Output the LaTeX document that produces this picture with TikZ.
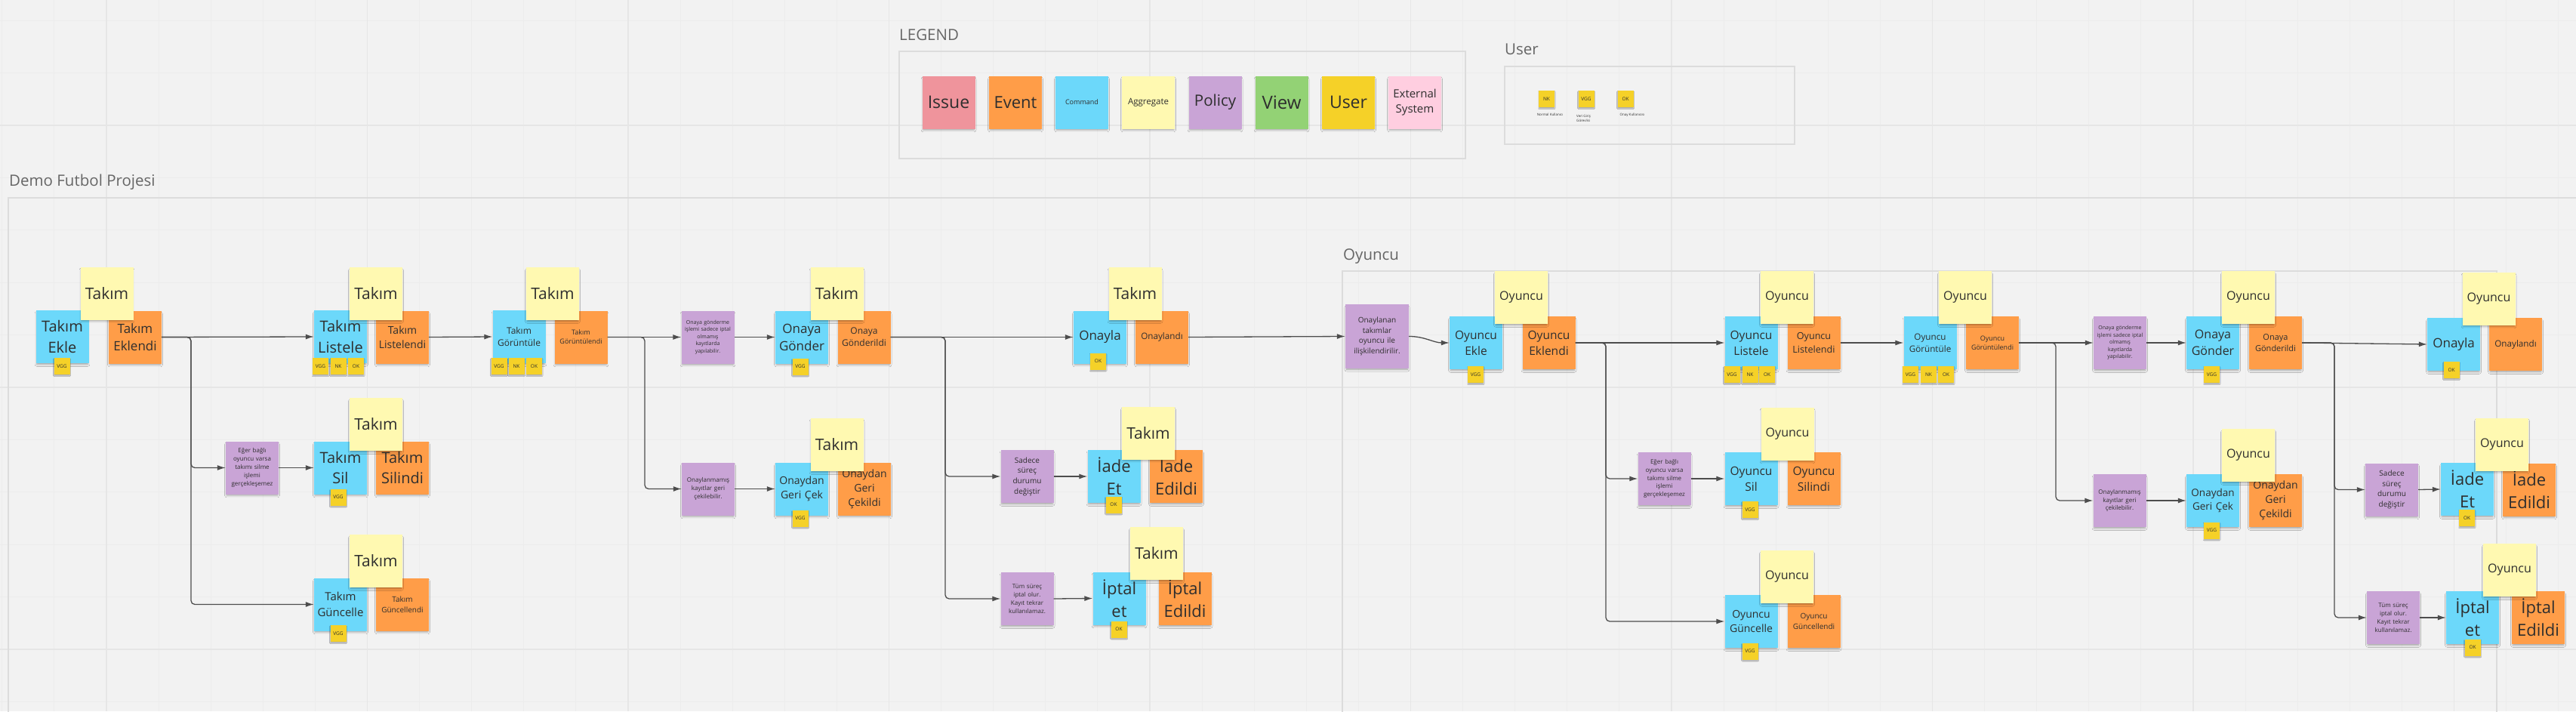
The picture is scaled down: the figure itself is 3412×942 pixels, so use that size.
\documentclass[tikz,border=0pt]{standalone}
\usepackage{fontspec}
\setmainfont{Open Sans}
\usetikzlibrary{arrows.meta,shadows.blur}
\definecolor{bg}{HTML}{F2F2F2}
\definecolor{gridminor}{HTML}{ECECEC}
\definecolor{gridmajor}{HTML}{E6E6E6}
\definecolor{issuec}{HTML}{EF949C}
\definecolor{eventc}{HTML}{FF9D48}
\definecolor{cmdc}{HTML}{6CD8FA}
\definecolor{aggc}{HTML}{FFF9B1}
\definecolor{polc}{HTML}{C9A4D6}
\definecolor{viewc}{HTML}{93D275}
\definecolor{userc}{HTML}{F5D128}
\definecolor{extc}{HTML}{FFCEE0}
\definecolor{txt}{HTML}{2E2E2E}
\definecolor{lbl}{HTML}{666666}
\definecolor{framec}{HTML}{DCDCDC}
\definecolor{linec}{HTML}{4D4D4D}
\newcommand\fz[1]{\fontsize{#1}{\fpeval{1.36*#1}}\selectfont}
\begin{document}
\begin{tikzpicture}[x=1pt,y=-1pt,
  sticky/.style={inner sep=0pt, minimum width=70pt, minimum height=70pt, text width=66pt, align=center, text=txt,
    blur shadow={shadow xshift=0pt, shadow yshift=-3pt, shadow blur radius=3pt, shadow opacity=35, shadow scale=0.96}},
  cmd/.style={sticky, fill=cmdc},
  evt/.style={sticky, fill=eventc},
  agg/.style={sticky, fill=aggc},
  pol/.style={sticky, fill=polc},
  usr/.style={inner sep=0pt, minimum width=21pt, minimum height=22pt, fill=userc, text=txt, font=\fz{6.5},
    blur shadow={shadow xshift=0pt, shadow yshift=-1.5pt, shadow blur radius=1pt, shadow opacity=30}},
  ulabel/.style={inner sep=0pt, text=txt, font=\fz{4.5}, align=left},
  conn/.style={draw=linec, line width=1.3pt, rounded corners=5pt, -{Latex[length=11pt,width=7pt]}},
  framebox/.style={draw=framec, line width=1.5pt},
  title/.style={text=lbl, anchor=base west, inner sep=0pt, font=\fz{20.5}},
]
\useasboundingbox (0,0) rectangle (3412,942);
\fill[bg] (0,0) rectangle (3412,942);
% grid
\foreach \k in {0,...,49} {\pgfmathsetmacro\gx{2.8+69.1*\k}\draw[gridminor, line width=1pt] (\gx,0) -- (\gx,942);}
\foreach \k in {0,...,13} {\pgfmathsetmacro\gy{27.2+69.4*\k}\draw[gridminor, line width=1pt] (0,\gy) -- (3412,\gy);}
\foreach \k in {2,7,...,47} {\pgfmathsetmacro\gx{2.8+69.1*\k}\draw[gridmajor, line width=1.2pt] (\gx,0) -- (\gx,942);}
\foreach \k in {2,7,12} {\pgfmathsetmacro\gy{27.2+69.4*\k}\draw[gridmajor, line width=1.2pt] (0,\gy) -- (3412,\gy);}

% frames and titles
\draw[framebox] (1191,68) rectangle (1941,210);
\node[title] (tlegend) at (1191,53) {LEGEND};
\draw[framebox] (1993,88) rectangle (2377,191);
\node[title] (tuser) at (1993,72) {User};
\draw[framebox] (3440,262) -- (11,262) -- (11,960);
\node[title] (tdemo) at (12,246) {Demo Futbol Projesi};
\draw[framebox] (1778,960) -- (1778,359) -- (3307,359) -- (3307,960);
\node[title] (toyuncu) at (1779,344) {Oyuncu};

% legend
\node[sticky, fill=issuec, font=\fz{23}] (lg1) at (1256.5,135.5) {Issue};
\node[sticky, fill=eventc, font=\fz{22}] (lg2) at (1345,135.5) {Event};
\node[sticky, fill=cmdc, font=\fz{9}] (lg3) at (1433,135.5) {Command};
\node[sticky, fill=aggc, font=\fz{11.5}] (lg4) at (1521,135.5) {Aggregate};
\node[sticky, fill=polc, font=\fz{20.5}] (lg5) at (1609.5,135.5) {Policy};
\node[sticky, fill=viewc, font=\fz{24}] (lg6) at (1697.5,135.5) {View};
\node[sticky, fill=userc, font=\fz{23}] (lg7) at (1786,135.5) {User};
\node[sticky, fill=extc, font=\fz{15}] (lg8) at (1874,135.5) {External\\System};

% user legend
\node[usr] (lnk) at (2048.5,131) {NK};
\node[usr] (lvgg) at (2101,131) {VGG};
\node[usr] (lok) at (2153,131) {OK};
\node[ulabel] (lnkt) at (2053,152) {Normal Kullanıcı};
\node[ulabel, anchor=north west] (lvggt) at (2088,152) {Veri Giriş\\Görevlisi};
\node[ulabel] (lokt) at (2162,152) {Onay Kullanıcısı};

% ===== Takım section =====
\node[cmd, font=\fz{20}] (tekle) at (82.5,446) {Takım\\Ekle};
\node[evt, font=\fz{17}] (teklendi) at (179,446.5) {Takım\\Eklendi};
\node[cmd, font=\fz{20}] (tlistele) at (451,446) {Takım\\Listele};
\node[evt, font=\fz{14}] (tlistelendi) at (533,446.5) {Takım\\Listelendi};
\node[cmd, font=\fz{12}] (tgor) at (687.5,446) {Takım\\Görüntüle};
\node[evt, font=\fz{9}] (tgorl) at (769.5,446.5) {Takım\\Görüntülendi};
\node[pol, font=\fz{8}] (psil) at (334,619.5) {Eğer bağlı\\oyuncu varsa\\takımı silme\\işlemi\\gerçekleşemez};
\node[cmd, font=\fz{20}] (tsil) at (451,619.5) {Takım\\Sil};
\node[evt, font=\fz{20}] (tsilindi) at (533,619.5) {Takım\\Silindi};
\node[cmd, font=\fz{15}] (tgunc) at (451,800.5) {Takım\\Güncelle};
\node[evt, font=\fz{10}] (tguncl) at (533,800.5) {Takım\\Güncellendi};
\node[pol, font=\fz{7}] (ponaya) at (937.5,446.5) {Onaya gönderme\\işlemi sadece iptal\\olmamış\\kayıtlarda\\yapılabilir.};
\node[cmd, font=\fz{17}] (tonayagonder) at (1062,446.5) {Onaya\\Gönder};
\node[evt, font=\fz{12}] (tgonderildi) at (1144.5,446.5) {Onaya\\Gönderildi};
\node[pol, font=\fz{8}] (ponaylanmamis) at (938,647.5) {Onaylanmamış\\kayıtlar geri\\çekilebilir.};
\node[cmd, font=\fz{14}] (tgericek) at (1062,647.5) {Onaydan\\Geri Çek};
\node[evt, font=\fz{14}] (tgericekildi) at (1145,647.5) {Onaydan\\Geri\\Çekildi};
\node[cmd, font=\fz{17}] (tonayla) at (1457,446.5) {Onayla};
\node[evt, font=\fz{11.7}] (tonaylandi) at (1539,446.5) {Onaylandı};
\node[pol, font=\fz{10}] (psadece) at (1360.5,631) {Sadece\\süreç\\durumu\\değiştir};
\node[cmd, font=\fz{22}] (tiade) at (1475.5,631) {İade\\Et};
\node[evt, font=\fz{22}] (tiadeedildi) at (1558,631) {İade\\Edildi};
\node[pol, font=\fz{8}] (ptum) at (1360.5,793) {Tüm süreç\\iptal olur.\\Kayıt tekrar\\kullanılamaz.};
\node[cmd, font=\fz{22}] (tiptal) at (1482.5,792.5) {İptal\\et};
\node[evt, font=\fz{22}] (tiptaledildi) at (1569.5,793) {İptal\\Edildi};

\node[agg, font=\fz{21}] (tagg1) at (141.5,388.5) {Takım};
\node[agg, font=\fz{21}] (tagg2) at (498,389) {Takım};
\node[agg, font=\fz{21}] (tagg3) at (732,389) {Takım};
\node[agg, font=\fz{21}] (tagg4) at (498,562) {Takım};
\node[agg, font=\fz{21}] (tagg5) at (498,743) {Takım};
\node[agg, font=\fz{21}] (tagg6) at (1108.5,389) {Takım};
\node[agg, font=\fz{21}] (tagg7) at (1108.5,589) {Takım};
\node[agg, font=\fz{21}] (tagg8) at (1503.5,389) {Takım};
\node[agg, font=\fz{21}] (tagg9) at (1521,573.5) {Takım};
\node[agg, font=\fz{21}] (tagg10) at (1532,733) {Takım};

\node[usr] (tu1) at (82,485) {VGG};
\node[usr] (tu2) at (424.5,485) {VGG};
\node[usr] (tu3) at (448,485) {NK};
\node[usr] (tu4) at (471.5,485) {OK};
\node[usr] (tu5) at (661,485) {VGG};
\node[usr] (tu6) at (684,485) {NK};
\node[usr] (tu7) at (707.5,485) {OK};
\node[usr] (tu8) at (448,658.5) {VGG};
\node[usr] (tu9) at (448,839) {VGG};
\node[usr] (tu10) at (1060,485.5) {VGG};
\node[usr] (tu11) at (1060,686.5) {VGG};
\node[usr] (tu12) at (1454.5,478.5) {OK};
\node[usr] (tu13) at (1475,668.5) {OK};
\node[usr] (tu14) at (1482,833.5) {OK};

% ===== Oyuncu section =====
\node[pol, minimum width=84pt, minimum height=85pt, text width=80pt, font=\fz{10}] (ponaylanan) at (1824,445.5) {Onaylanan\\takımlar\\oyuncu ile\\ilişkilendirilir.};
\node[cmd, font=\fz{15.5}] (oekle) at (1955,454) {Oyuncu\\Ekle};
\node[evt, font=\fz{15.5}] (oeklendi) at (2051.5,454) {Oyuncu\\Eklendi};
\node[cmd, font=\fz{15.5}] (olistele) at (2319.5,454) {Oyuncu\\Listele};
\node[evt, font=\fz{12.6}] (olistelendi) at (2402.5,454) {Oyuncu\\Listelendi};
\node[pol, font=\fz{8}] (p2sil) at (2204.5,634) {Eğer bağlı\\oyuncu varsa\\takımı silme\\işlemi\\gerçekleşemez};
\node[cmd, font=\fz{15.5}] (osil) at (2319.5,634) {Oyuncu\\Sil};
\node[evt, font=\fz{15.5}] (osilindi) at (2402.5,634) {Oyuncu\\Silindi};
\node[cmd, font=\fz{14}] (ogunc) at (2319.5,823) {Oyuncu\\Güncelle};
\node[evt, font=\fz{10}] (oguncl) at (2402.5,823) {Oyuncu\\Güncellendi};
\node[cmd, font=\fz{11.7}] (ogor) at (2556.5,454) {Oyuncu\\Görüntüle};
\node[evt, font=\fz{9}] (ogorl) at (2639,454) {Oyuncu\\Görüntülendi};
\node[pol, font=\fz{7}] (p2onaya) at (2808,454) {Onaya gönderme\\işlemi sadece iptal\\olmamış\\kayıtlarda\\yapılabilir.};
\node[cmd, font=\fz{16}] (oonayagonder) at (2931,454) {Onaya\\Gönder};
\node[evt, font=\fz{11}] (ogonderildi) at (3014,454) {Onaya\\Gönderildi};
\node[pol, font=\fz{8}] (p2onaylanmamis) at (2807.5,663) {Onaylanmamış\\kayıtlar geri\\çekilebilir.};
\node[cmd, font=\fz{13.5}] (ogericek) at (2931,663) {Onaydan\\Geri Çek};
\node[evt, font=\fz{14}] (ogericekildi) at (3014,663) {Onaydan\\Geri\\Çekildi};
\node[cmd, font=\fz{17}] (oonayla) at (3250,456) {Onayla};
\node[evt, font=\fz{11.7}] (oonaylandi) at (3332,456) {Onaylandı};
\node[pol, font=\fz{10}] (p2sadece) at (3168,648.5) {Sadece\\süreç\\durumu\\değiştir};
\node[cmd, font=\fz{22}] (oiade) at (3268,648) {İade\\Et};
\node[evt, font=\fz{22}] (oiadeedildi) at (3350,648.5) {İade\\Edildi};
\node[pol, font=\fz{8}] (p2tum) at (3170,818) {Tüm süreç\\iptal olur.\\Kayıt tekrar\\kullanılamaz.};
\node[cmd, font=\fz{22}] (oiptal) at (3275,818) {İptal\\et};
\node[evt, font=\fz{22}] (oiptaledildi) at (3362,818) {İptal\\Edildi};

\node[agg, font=\fz{16}] (oagg1) at (2015,394) {Oyuncu};
\node[agg, font=\fz{16}] (oagg2) at (2367,394) {Oyuncu};
\node[agg, font=\fz{16}] (oagg3) at (2367.5,574.5) {Oyuncu};
\node[agg, font=\fz{16}] (oagg4) at (2367,764) {Oyuncu};
\node[agg, font=\fz{16}] (oagg5) at (2603,394) {Oyuncu};
\node[agg, font=\fz{16}] (oagg6) at (2978,394) {Oyuncu};
\node[agg, font=\fz{16}] (oagg7) at (2978,603) {Oyuncu};
\node[agg, font=\fz{16}] (oagg8) at (3296.5,395.5) {Oyuncu};
\node[agg, font=\fz{16}] (oagg9) at (3314,588.5) {Oyuncu};
\node[agg, font=\fz{16}] (oagg10) at (3324,755) {Oyuncu};

\node[usr] (ou1) at (1954.5,496) {VGG};
\node[usr] (ou2) at (2294,496) {VGG};
\node[usr] (ou3) at (2318,496) {NK};
\node[usr] (ou4) at (2340.5,496) {OK};
\node[usr] (ou5) at (2318,675) {VGG};
\node[usr] (ou6) at (2318,862.5) {VGG};
\node[usr] (ou7) at (2530.5,496) {VGG};
\node[usr] (ou8) at (2554.5,496) {NK};
\node[usr] (ou9) at (2577.5,496) {OK};
\node[usr] (ou10) at (2929.5,496) {VGG};
\node[usr] (ou11) at (2929.5,702.5) {VGG};
\node[usr] (ou12) at (3247,490) {OK};
\node[usr] (ou13) at (3267.5,686) {OK};
\node[usr] (ou14) at (3275,857.5) {OK};

% ===== connectors =====
\coordinate (bt1) at (253,0);
\coordinate (bt2) at (854,0);
\coordinate (bt3) at (1252,0);
\coordinate (bo1) at (2127,0);
\coordinate (bo2) at (2723,0);
\coordinate (bo3) at (3092,0);

\draw[conn] (teklendi.east) -- (tlistele.west);
\draw[conn] (teklendi.east) -- (teklendi.east -| bt1) |- (psil.west);
\draw[conn] (teklendi.east) -- (teklendi.east -| bt1) |- (tgunc.west);
\draw[conn] (psil.east) -- (tsil.west);
\draw[conn] (tlistelendi.east) -- (tgor.west);
\draw[conn] (tgorl.east) -- (ponaya.west);
\draw[conn] (tgorl.east) -- (tgorl.east -| bt2) |- (ponaylanmamis.west);
\draw[conn] (ponaya.east) -- (tonayagonder.west);
\draw[conn] (ponaylanmamis.east) -- (tgericek.west);
\draw[conn] (tgonderildi.east) -- (tonayla.west);
\draw[conn] (tgonderildi.east) -- (tgonderildi.east -| bt3) |- (psadece.west);
\draw[conn] (tgonderildi.east) -- (tgonderildi.east -| bt3) |- (ptum.west);
\draw[conn] (psadece.east) -- (tiade.west);
\draw[conn] (ptum.east) -- (tiptal.west);
\draw[conn] (tonaylandi.east) -- (ponaylanan.west);
\draw[conn] (ponaylanan.east) to[out=0,in=180] (oekle.west);
\draw[conn] (oeklendi.east) -- (olistele.west);
\draw[conn] (oeklendi.east) -- (oeklendi.east -| bo1) |- (p2sil.west);
\draw[conn] (oeklendi.east) -- (oeklendi.east -| bo1) |- (ogunc.west);
\draw[conn] (p2sil.east) -- (osil.west);
\draw[conn] (olistelendi.east) -- (ogor.west);
\draw[conn] (ogorl.east) -- (p2onaya.west);
\draw[conn] (ogorl.east) -- (ogorl.east -| bo2) |- (p2onaylanmamis.west);
\draw[conn] (p2onaya.east) -- (oonayagonder.west);
\draw[conn] (p2onaylanmamis.east) -- (ogericek.west);
\draw[conn] (ogonderildi.east) -- (oonayla.west);
\draw[conn] (ogonderildi.east) -- (ogonderildi.east -| bo3) |- (p2sadece.west);
\draw[conn] (ogonderildi.east) -- (ogonderildi.east -| bo3) |- (p2tum.west);
\draw[conn] (p2sadece.east) -- (oiade.west);
\draw[conn] (p2tum.east) -- (oiptal.west);
\end{tikzpicture}
\end{document}
